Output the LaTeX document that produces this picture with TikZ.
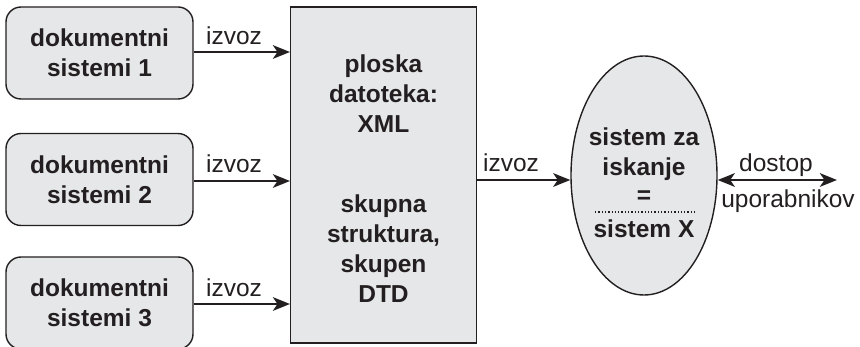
\documentclass[tikz,border=0pt]{standalone}
\usepackage{fontspec}
\setmainfont{Liberation Sans}
\usetikzlibrary{arrows.meta,shapes.geometric}
\definecolor{fillg}{HTML}{E6E7E8}
\definecolor{ink}{HTML}{231F20}
\begin{document}
\begin{tikzpicture}[x=1pt,y=-1pt,
  srcbox/.style={draw=ink,fill=fillg,line width=1.4pt,rounded corners=15pt,minimum width=187pt,minimum height=92pt,inner sep=0pt},
  btext/.style={font=\fontsize{24.5}{30}\selectfont\bfseries,text=ink,align=center,inner sep=0pt},
  rtext/.style={font=\fontsize{24.5}{30}\selectfont,text=ink,align=center,inner sep=0pt},
  tip/.style={Stealth[length=17pt,width=13.5pt,inset=4.5pt]},
  arr/.style={draw=ink,line width=2.8pt,-{Stealth[length=17pt,width=13.5pt,inset=4.5pt]}},
  darr/.style={draw=ink,line width=2.8pt,{Stealth[length=17pt,width=13.5pt,inset=4.5pt]}-{Stealth[length=17pt,width=13.5pt,inset=4.5pt]}}]
\useasboundingbox (0,0) rectangle (860,347);
\begin{scope}
\clip (0,0) rectangle (860,347);
\node[srcbox] (s1) at (99.5,53) {};
\node[srcbox] (s2) at (99.5,179.5) {};
\node[srcbox] (s3) at (99.5,303) {};
\end{scope}
\node[btext] at (s1) {dokumentni\\sistemi 1};
\node[btext] at (s2) {dokumentni\\sistemi 2};
\node[btext] at (s3) {dokumentni\\sistemi 3};
\node[draw=ink,fill=fillg,line width=1.4pt,minimum width=186pt,minimum height=336pt,inner sep=0pt] (flat) at (383.7,175) {};
\node[btext] (t1) at (383.5,93.5) {ploska\\datoteka:\\XML};
\node[btext] (t2) at (383.5,248.5) {skupna\\struktura,\\skupen\\DTD};
\node[ellipse,draw=ink,fill=fillg,line width=1.4pt,minimum width=146pt,minimum height=239pt,inner sep=0pt] (srch) at (644,175.5) {};
\node[btext] (e1) at (644,154) {sistem za\\iskanje};
\node[btext] (e2) at (644,197) {=};
\coordinate (dl) at (595,212);
\coordinate (dr) at (697,212);
\draw[ink,line width=1.3pt,dotted] (dl) -- (dr);
\node[btext] (e3) at (644,229) {sistem X};
\coordinate (a1) at (s1.east |- 0,52);
\coordinate (a2) at (s2.east |- 0,181);
\coordinate (a3) at (s3.east |- 0,304);
\draw[arr] (a1) -- (a1 -| flat.west);
\draw[arr] (a2) -- (a2 -| flat.west);
\draw[arr] (a3) -- (a3 -| flat.west);
\node[rtext,anchor=base] at (234,45) {izvoz};
\node[rtext,anchor=base] at (234,173) {izvoz};
\node[rtext,anchor=base] at (234,297) {izvoz};
\coordinate (m) at (flat.east |- 0,180);
\draw[arr] (m) -- (m -| srch.west);
\node[rtext,anchor=base] at (511,172) {izvoz};
\coordinate (u) at (837,180);
\draw[darr] (srch.east |- 0,180) -- (u);
\node[rtext,anchor=base] at (776,172) {dostop};
\node[rtext,anchor=base] at (788,208) {uporabnikov};
\end{tikzpicture}
\end{document}
